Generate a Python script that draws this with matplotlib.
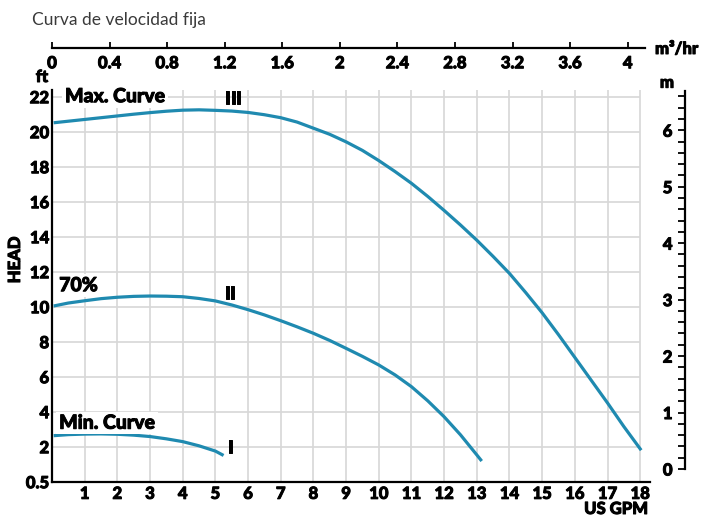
import numpy as np
import matplotlib
matplotlib.use("Agg")
import matplotlib.pyplot as plt
import matplotlib.patheffects as pe
from matplotlib.ticker import MultipleLocator

plt.rcParams['font.family'] = ['Lato', 'DejaVu Sans']

# curve data (US GPM vs ft of head)
gpm_max = [0.05, 0.5, 1, 1.5, 2, 2.5, 3, 3.5, 4, 4.5, 5, 5.5, 6, 6.5, 7, 7.5, 8, 8.5, 9,
           9.5, 10, 10.5, 11, 11.5, 12, 12.5, 13, 13.5, 14, 14.5, 15, 15.5, 16, 16.5,
           17, 17.5, 18.03]
ft_max = [20.51, 20.6, 20.7, 20.8, 20.9, 21.0, 21.09, 21.17, 21.23, 21.25, 21.22, 21.18,
          21.1, 20.97, 20.8, 20.55, 20.2, 19.85, 19.42, 18.93, 18.35, 17.72, 17.05, 16.3,
          15.5, 14.67, 13.8, 12.87, 11.9, 10.8, 9.65, 8.4, 7.1, 5.8, 4.5, 3.15, 1.8]

gpm_70 = [0.05, 0.5, 1, 1.5, 2, 2.5, 3, 3.5, 4, 4.5, 5, 5.5, 6, 6.5, 7, 7.5, 8, 8.5, 9,
          9.5, 10, 10.5, 11, 11.5, 12, 12.5, 13, 13.15]
ft_70 = [10.04, 10.21, 10.34, 10.46, 10.54, 10.59, 10.61, 10.6, 10.57, 10.47, 10.33,
         10.1, 9.83, 9.53, 9.2, 8.85, 8.48, 8.07, 7.62, 7.16, 6.67, 6.1, 5.43, 4.62,
         3.71, 2.68, 1.53, 1.18]

gpm_min = [0.05, 0.5, 1, 1.5, 2, 2.5, 3, 3.5, 4, 4.5, 5, 5.25]
ft_min = [2.63, 2.69, 2.72, 2.73, 2.71, 2.66, 2.58, 2.45, 2.29, 2.05, 1.75, 1.5]

gpm_ticks = list(range(1, 19))
ft_ticks = [0, 2, 4, 6, 8, 10, 12, 14, 16, 18, 20, 22]
ft_labels = ['0.5', '2', '4', '6', '8', '10', '12', '14', '16', '18', '20', '22']
m3h_ticks = [0, 0.4, 0.8, 1.2, 1.6, 2, 2.4, 2.8, 3.2, 3.6, 4]
m3h_labels = ['0', '0.4', '0.8', '1.2', '1.6', '2', '2.4', '2.8', '3.2', '3.6', '4']
m_ticks = [0, 1, 2, 3, 4, 5, 6]

W, H = 705, 519
curve_color = '#1f8ab0'
grid_color = '#d7d7d7'
heavy = 'black'
# thicken the bold glyphs a little, the original uses a heavier face
fat = [pe.withStroke(linewidth=0.7, foreground='black')]
tick_font = dict(fontsize=12, fontweight=heavy)

fig = plt.figure(figsize=(W / 100, H / 100), dpi=100)

# main axes: 0 GPM at x=52, 0 ft at y=481.7
ax = fig.add_axes([52 / W, (H - 481.7) / H, (650 - 52) / W, (481.7 - 89.7) / H])
ax.set_xlim(0, 18.3)
ax.set_ylim(0, 22.4)

# grid drawn by hand so it stops at 18 GPM
ax.vlines(gpm_ticks, 0, 22.4, color=grid_color, lw=1.2, zorder=0)
ax.hlines(ft_ticks[1:], 0, 18, color=grid_color, lw=1.2, zorder=0)

for x, y in [(gpm_max, ft_max), (gpm_70, ft_70), (gpm_min, ft_min)]:
    ax.plot(x, y, color=curve_color, lw=2.3, solid_capstyle='butt',
            solid_joinstyle='round', zorder=3)

for s in ['top', 'right']:
    ax.spines[s].set_visible(False)
for s in ['left', 'bottom']:
    ax.spines[s].set_linewidth(1.6)

ax.set_xticks(gpm_ticks)
ax.set_xticklabels([str(t) for t in gpm_ticks], **tick_font)
ax.set_yticks(ft_ticks)
ax.set_yticklabels(ft_labels, **tick_font)
ax.tick_params(axis='both', length=0)
ax.tick_params(axis='x', pad=3)
ax.tick_params(axis='y', pad=2)

box = dict(fc='white', ec='none', pad=2)
ax.text(0.4, 22.0, 'Max. Curve', fontsize=14, fontweight=heavy, va='center', bbox=box, zorder=4,
        path_effects=fat)
ax.text(5.55, 21.9, 'III', fontsize=13, fontweight=heavy, ha='center', va='center', zorder=4,
        path_effects=fat)
ax.text(0.22, 11.2, '70%', fontsize=14, fontweight=heavy, va='center', bbox=box, zorder=4,
        path_effects=fat)
ax.text(5.45, 10.77, 'II', fontsize=13, fontweight=heavy, ha='center', va='center', zorder=4,
        path_effects=fat)
ax.text(0.22, 3.34, 'Min. Curve', fontsize=14, fontweight=heavy, va='center', bbox=box, zorder=4,
        path_effects=fat)
ax.text(5.46, 1.93, 'I', fontsize=13, fontweight=heavy, ha='center', va='center', zorder=4,
        path_effects=fat)

# top axis in m3/hr
axt = fig.add_axes([52 / W, (H - 48.3) / H, (645 - 52) / W, 0.0001])
axt.set_xlim(0, 4.12)
axt.set_yticks([])
for s in ['top', 'right', 'left']:
    axt.spines[s].set_visible(False)
axt.spines['bottom'].set_linewidth(1.6)
axt.patch.set_visible(False)
axt.set_xticks(m3h_ticks)
axt.set_xticklabels(m3h_labels, **tick_font)
axt.tick_params(axis='x', direction='in', length=4, width=1.3, pad=5)

# right axis in m
axr = fig.add_axes([685 / W, (H - 469) / H, 0.0001, (469 - 90.7) / H])
axr.set_ylim(0, 6.7)
axr.set_xticks([])
for s in ['top', 'right', 'bottom']:
    axr.spines[s].set_visible(False)
axr.spines['left'].set_linewidth(1.6)
axr.patch.set_visible(False)
axr.set_yticks(m_ticks)
axr.set_yticklabels([str(t) for t in m_ticks], **tick_font)
axr.yaxis.set_minor_locator(MultipleLocator(0.2))
axr.tick_params(axis='y', which='both', direction='out', length=5, width=1.3, pad=4)

for lab in (ax.get_xticklabels() + ax.get_yticklabels() + axt.get_xticklabels()
            + axr.get_yticklabels()):
    lab.set_path_effects(fat)

# titles and units
fig.text(32 / W, 1 - 20.5 / H, 'Curva de velocidad fija', fontsize=12.5, color='#3a3a3a',
         va='center', ha='left')
fig.text(42 / W, 1 - 77 / H, 'ft', fontsize=12, fontweight=heavy, ha='center', va='center',
         path_effects=fat)
fig.text(15 / W, 1 - 260 / H, 'HEAD', fontsize=12, fontweight=heavy, rotation=90,
         ha='center', va='center', path_effects=fat)
fig.text(655 / W, 1 - 49 / H, 'm³/hr', fontsize=12, fontweight=heavy, ha='left', va='center',
         path_effects=fat)
fig.text(667 / W, 1 - 82.7 / H, 'm', fontsize=12, fontweight=heavy, ha='center', va='center',
         path_effects=fat)
fig.text(648 / W, 1 - 509 / H, 'US GPM', fontsize=12, fontweight=heavy, ha='right', va='center',
         path_effects=fat)

fig.savefig('out.png', dpi=100)
